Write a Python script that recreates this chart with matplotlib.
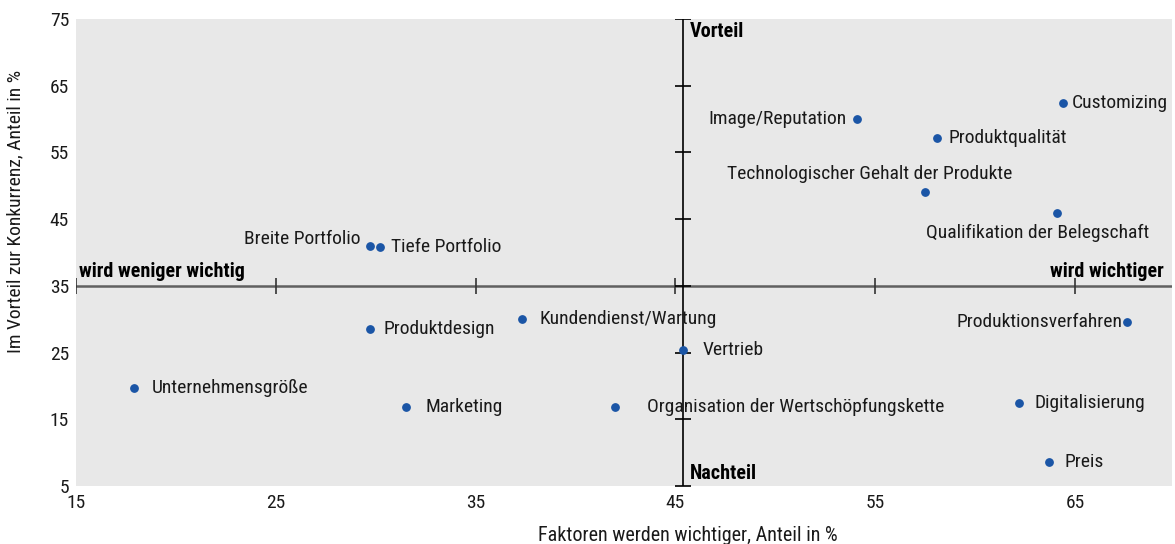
import matplotlib
matplotlib.use("Agg")
import matplotlib.pyplot as plt

plt.rcParams['font.family'] = ['Roboto Condensed', 'Liberation Sans Narrow', 'DejaVu Sans Condensed', 'DejaVu Sans']

# Daten
labels = ["Customizing", "Image/Reputation", "Produktqualität",
          "Technologischer Gehalt der Produkte", "Qualifikation der Belegschaft",
          "Breite Portfolio", "Tiefe Portfolio", "Produktdesign",
          "Kundendienst/Wartung", "Vertrieb", "Produktionsverfahren",
          "Unternehmensgröße", "Marketing", "Organisation der Wertschöpfungskette",
          "Digitalisierung", "Preis"]
x_vals = [64.4, 54.1, 58.1, 57.5, 64.1, 29.7, 30.2, 29.7,
          37.3, 45.4, 67.6, 17.9, 31.5, 42.0, 62.2, 63.7]
y_vals = [62.4, 60.0, 57.2, 49.1, 45.9, 41.0, 40.8, 28.5,
          30.0, 25.4, 29.6, 19.7, 16.8, 16.8, 17.4, 8.6]
# Beschriftung: Versatz in pt, Ausrichtung
label_pos = [(6, 0, 'left', 'center'), (-8, 0, 'right', 'center'), (8, 0, 'left', 'center'),
             (-40, 13, 'center', 'center'), (-14, -14, 'center', 'center'),
             (-7, 5, 'right', 'center'), (8, 0, 'left', 'center'), (10, 0, 'left', 'center'),
             (13, 0, 'left', 'center'), (14, 0, 'left', 'center'), (-3, 0, 'right', 'center'),
             (13, 0, 'left', 'center'), (14, 0, 'left', 'center'), (23, 0, 'left', 'center'),
             (11, 0, 'left', 'center'), (11, 0, 'left', 'center')]

x_ticks = [15, 25, 35, 45, 55, 65]
y_ticks = [5, 15, 25, 35, 45, 55, 65, 75]
x_cross = 45.4
y_cross = 35

fig = plt.figure(figsize=(11.75, 5.44), dpi=100)
ax = fig.add_axes([0.0647, 0.1066, 0.9327, 0.8584])
ax.set_facecolor('#e8e8e8')
ax.set_xlim(15, 69.85)
ax.set_ylim(5, 75)
for s in ax.spines.values():
    s.set_visible(False)
ax.set_xticks(x_ticks)
ax.set_yticks(y_ticks)
ax.tick_params(length=0, labelsize=14, pad=6, labelcolor='#1a1a1a')
ax.tick_params(axis='y', pad=5)

# Achsenkreuz
ax.axhline(y_cross, color='#606060', lw=1.8, zorder=2)
ax.plot([x_cross, x_cross], [5, 75], color='black', lw=1.2, zorder=2)
ax.plot(x_ticks, [y_cross] * len(x_ticks), ls='none', marker='|', ms=11, mew=1.2, color='#333333', zorder=2)
ax.plot([x_cross] * len(y_ticks), y_ticks, ls='none', marker='_', ms=11, mew=1.2, color='black', zorder=2)

ax.scatter(x_vals, y_vals, s=28, color='#1a55a6', zorder=3)
for lab, x, y, (dx, dy, ha, va) in zip(labels, x_vals, y_vals, label_pos):
    ax.annotate(lab, (x, y), xytext=(dx, dy), textcoords='offset points',
                ha=ha, va=va, fontsize=14, color='#1a1a1a')

ax.text(15.15, 35.7, "wird weniger wichtig", fontsize=14.5, fontweight='bold', ha='left', va='bottom')
ax.text(69.45, 35.7, "wird wichtiger", fontsize=14.5, fontweight='bold', ha='right', va='bottom')
ax.text(x_cross + 0.3, 74.5, "Vorteil", fontsize=14.5, fontweight='bold', ha='left', va='top')
ax.text(x_cross + 0.3, 5.5, "Nachteil", fontsize=14.5, fontweight='bold', ha='left', va='bottom')

ax.set_xlabel("Faktoren werden wichtiger, Anteil in %", fontsize=14.5, color='#1a1a1a')
ax.set_ylabel("Im Vorteil zur Konkurrenz, Anteil in %", fontsize=14, color='#1a1a1a')
ax.xaxis.set_label_coords(0.558, -0.085)
ax.yaxis.set_label_coords(-0.047, 0.589)

fig.savefig("out.png", dpi=100)
